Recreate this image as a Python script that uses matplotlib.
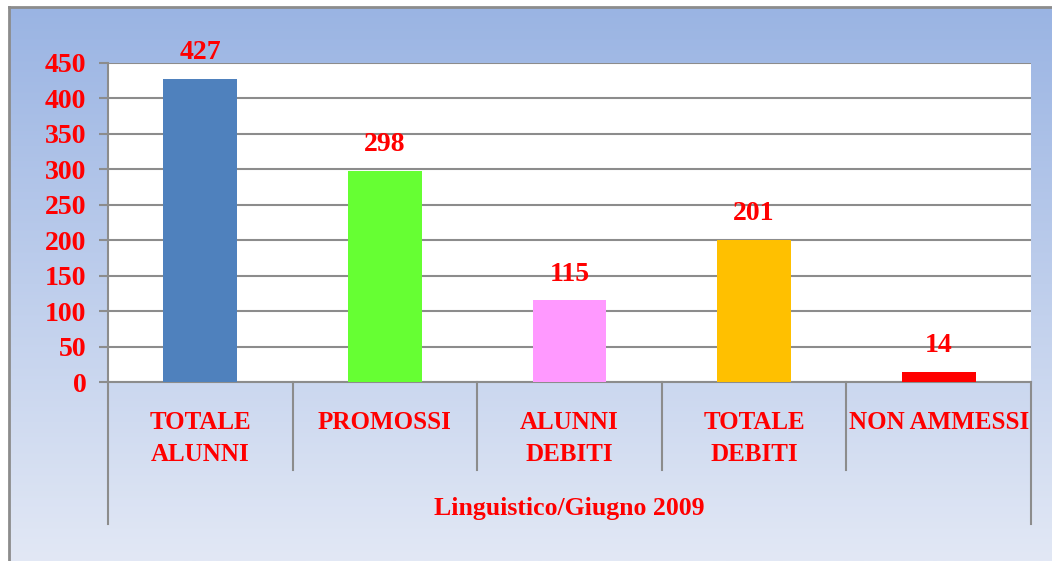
import numpy as np
import matplotlib
matplotlib.use("Agg")
import matplotlib.pyplot as plt
from matplotlib.colors import LinearSegmentedColormap
import matplotlib.transforms as mtransforms

categorie = ['TOTALE\nALUNNI', 'PROMOSSI', 'ALUNNI\nDEBITI', 'TOTALE\nDEBITI', 'NON AMMESSI']
valori = [427, 298, 115, 201, 14]
colori = ['#4F81BD', '#66FF33', '#FF99FF', '#FFC000', '#FF0000']
gruppo = 'Linguistico/Giugno 2009'
y_ticks = [0, 50, 100, 150, 200, 250, 300, 350, 400, 450]

rosso = '#FF0000'
font = 'Liberation Serif'

W, H = 1052, 561
fig = plt.figure(figsize=(W / 100, H / 100), dpi=100)

# sfondo sfumato
bg = fig.add_axes([9 / W, 0, 1 - 9 / W, 1 - 7 / H])
cmap = LinearSegmentedColormap.from_list('sf', ['#9AB4E3', '#E2E8F5'])
bg.imshow(np.linspace(0, 1, 256).reshape(-1, 1), aspect='auto', cmap=cmap,
          extent=[0, 1, 0, 1])
bg.set_xlim(0, 1)
bg.set_ylim(0, 1)
bg.set_xticks([])
bg.set_yticks([])
for s in ['right', 'bottom']:
    bg.spines[s].set_visible(False)
for s in ['top', 'left']:
    bg.spines[s].set_color('#8C8C8C')
    bg.spines[s].set_linewidth(2)

ax = fig.add_axes([108 / W, (H - 382) / H, 923 / W, 319 / H])
ax.set_facecolor('white')
x = np.arange(len(valori))
ax.bar(x, valori, width=0.4, color=colori, zorder=3)
ax.set_xlim(-0.5, len(valori) - 0.5)
ax.set_ylim(0, 450)
ax.set_yticks(y_ticks)
ax.set_yticklabels([str(t) for t in y_ticks], color=rosso, fontsize=20,
                   fontweight='bold', family=font)
ax.tick_params(axis='y', length=6.5, width=1.5, color='#8C8C8C', pad=9)
ax.set_xticks([])
ax.grid(axis='y', color='#8C8C8C', linewidth=1.5, zorder=0)
for s in ['top', 'right']:
    ax.spines[s].set_visible(False)
for s in ['left', 'bottom']:
    ax.spines[s].set_color('#8C8C8C')
    ax.spines[s].set_linewidth(1.5)

for i, v in enumerate(valori):
    ax.annotate(str(v), (i, v), xytext=(0, 19), textcoords='offset points',
                ha='center', va='center', color=rosso, fontsize=20,
                fontweight='bold', family=font)

# asse categorie a due livelli
tr = mtransforms.blended_transform_factory(ax.transData, ax.transAxes)
sep = np.arange(len(valori) + 1) - 0.5
for k, xs in enumerate(sep):
    y0 = -0.445 if k in (0, len(sep) - 1) else -0.276
    ax.plot([xs, xs], [0, y0], transform=tr, color='#8C8C8C', lw=1.5,
            clip_on=False)

for i, c in enumerate(categorie):
    ax.text(i, -0.09, c, transform=tr, ha='center', va='top', color=rosso,
            fontsize=18, fontweight='bold', family=font, linespacing=1.52)

ax.text((len(valori) - 1) / 2, -0.395, gruppo, transform=tr, ha='center',
        va='center', color=rosso, fontsize=18.5, fontweight='bold', family=font)

fig.savefig('out.png', dpi=100)
